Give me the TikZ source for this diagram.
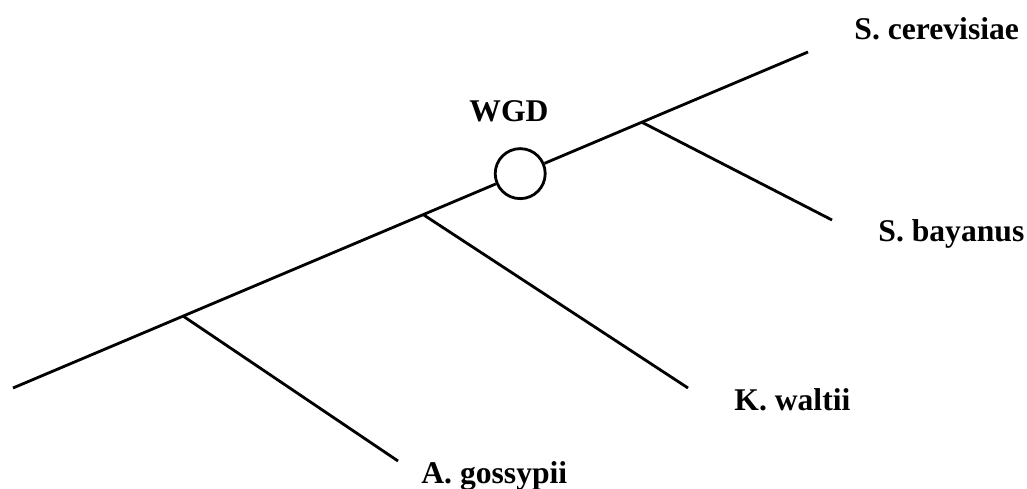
\documentclass[tikz,border=0pt]{standalone}
\usepackage{fontspec}
\setmainfont{Liberation Serif}
\usepackage{tikz}
\usetikzlibrary{positioning, calc}

\begin{document}
\begin{tikzpicture}[x=0.02cm, y=-0.02cm, line width=1.6pt, taxon/.style={anchor=base west, inner sep=0pt, font=\fontsize{18}{20}\selectfont\bfseries}, event/.style={circle, draw, minimum size=1cm, inner sep=0pt} ]
		\useasboundingbox (0,0) rectangle (1027,489);

		%Ramo principal:
		\coordinate (root)  at (13,388);
		\coordinate (top)   at (808,52);
		\coordinate (nA)    at ($(root)!0.214!(top)$);
		\coordinate (nK)    at ($(root)!0.516!(top)$);
		\coordinate (nS)    at ($(root)!0.791!(top)$);
		\node[event]				(wgd)  at ($(root)!0.638!(top)$) {};

		%Folhas:
		\coordinate (lA)    at (398,461);
		\coordinate (lK)    at (688,388);
		\coordinate (lB)    at (832,220);

		%Nomes:
		\node[taxon]				(cer)  at (853,40)  {S. cerevisiae};
		\node[taxon]				(bay)  at (877,242) {S. bayanus};
		\node[taxon]				(wal)  at (733,410) {K. waltii};
		\node[taxon]				(gos)  at (420,483) {A. gossypii};
		\node[taxon]				(lbl)  at (468,122) {WGD};

		\draw (root) -- (wgd) -- (top);
		\draw (nA) -- (lA);
		\draw (nK) -- (lK);
		\draw (nS) -- (lB);
	\end{tikzpicture}
\end{document}
